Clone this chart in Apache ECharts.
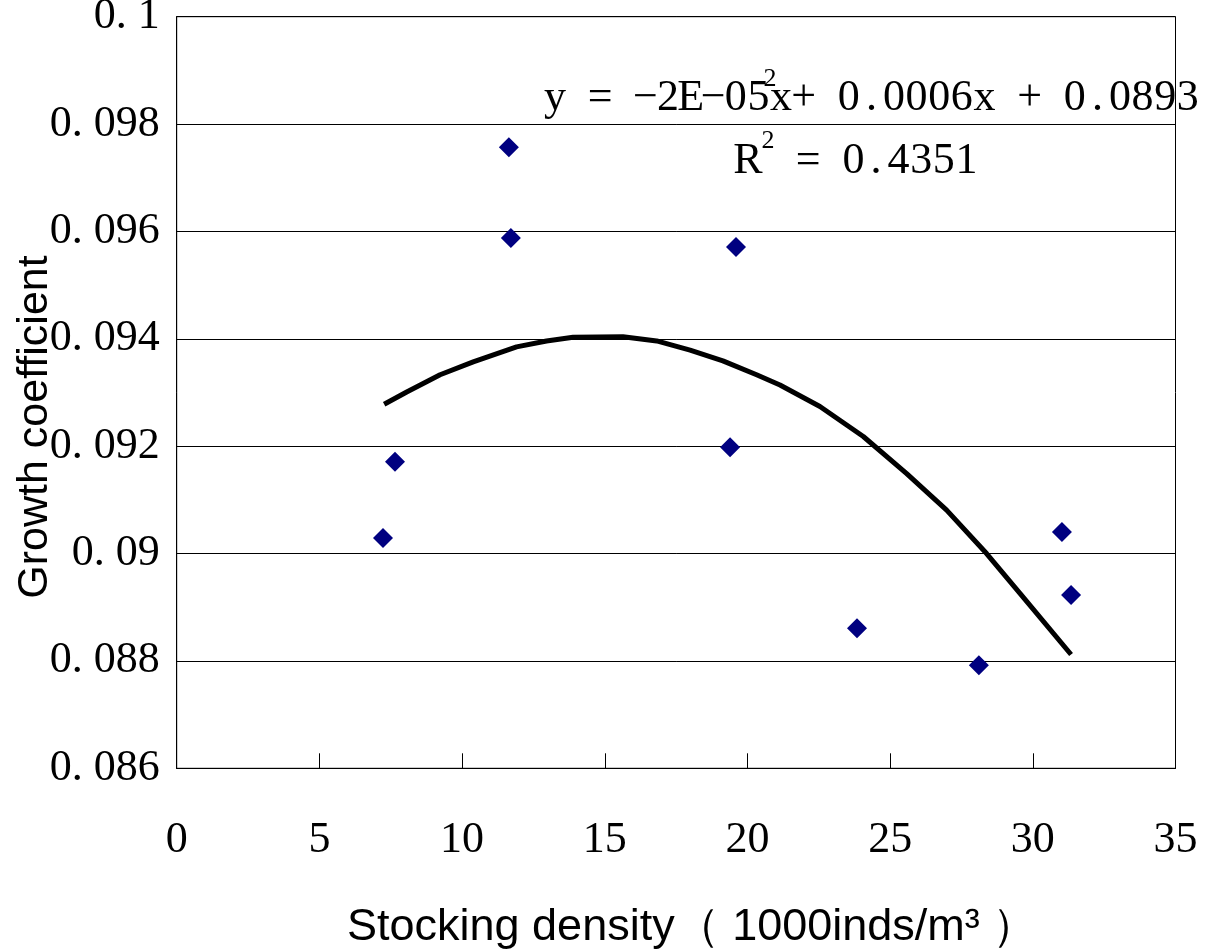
<!DOCTYPE html>
<html>
<head>
<meta charset="utf-8">
<script src="https://cdn.jsdelivr.net/npm/echarts@6/dist/echarts.min.js"></script>
<style>
html,body{margin:0;padding:0;background:#fff;}
#chart{width:1212px;height:952px;}
</style>
</head>
<body>
<div id="chart"></div>
<script>
// Observed data points (stocking density, growth coefficient)
const densityX = [7.23, 7.65, 11.64, 11.71, 19.39, 19.60, 23.84, 28.11, 31.02, 31.34];
const growthY  = [0.09029, 0.09171, 0.09757, 0.09588, 0.09198, 0.09571, 0.08861, 0.08792, 0.09040, 0.08923];

// Polynomial trendline
const trendX = [7.27, 8.06, 9.23, 10.39, 11.91, 12.96, 13.89, 15.64, 16.82, 17.99, 19.14, 20.32, 21.14, 22.54, 24.06, 25.58, 26.98, 28.38, 29.55, 31.34];
const trendY = [0.09278, 0.09301, 0.09333, 0.09357, 0.09385, 0.09396, 0.09403, 0.09404, 0.09396, 0.09379, 0.09359, 0.09333, 0.09314, 0.09274, 0.09218, 0.09149, 0.09081, 0.09000, 0.08926, 0.08812];

// Tick labels
const yTickLabels = ['0. 086', '0. 088', '0. 09', '0. 092', '0. 094', '0. 096', '0. 098', '0. 1'];
const xTickLabels = ['0', '5', '10', '15', '20', '25', '30', '35'];

// Texts
const xTitle = 'Stocking density（ 1000inds/m³ ）';
const yTitle = 'Growth coefficient';
const eqText = 'y = −2E−05x+ 0.0006x + 0.0893';
const r2Value = ' = 0.4351';

const SERIF = '"Liberation Serif", "Times New Roman", serif';
const SANS = '"Liberation Sans", Arial, sans-serif';

function mono(str, style) {
  return str.split('').map(ch => '{' + style + '|' + ch + '}').join('');
}

const chart = echarts.init(document.getElementById('chart'), null, {renderer: 'canvas'});

const scatterData = densityX.map((x, i) => [x, growthY[i]]);
const trendData = trendX.map((x, i) => [x, trendY[i]]);

const cellRich = {
  c: {fontFamily: SERIF, fontSize: 44, width: 22.6, align: 'center', color: '#000'},
  r: {fontFamily: SERIF, fontSize: 44, width: 22.6, align: 'center', color: '#000'},
  s: {fontFamily: SERIF, fontSize: 26, width: 15, align: 'center', color: '#000'}
};

const option = {
  animation: false,
  backgroundColor: '#fff',
  grid: {
    left: 176.7, right: 36.5, top: 16.7, bottom: 183.7,
    containLabel: false,
    outerBoundsMode: 'none',
    show: true, borderColor: '#000', borderWidth: 1, backgroundColor: 'transparent'
  },
  xAxis: {
    type: 'value',
    min: 0, max: 35, interval: 5,
    axisLine: {show: true, onZero: false, lineStyle: {color: '#000', width: 1}},
    axisTick: {show: true, inside: true, length: 15, lineStyle: {color: '#000', width: 1}},
    splitLine: {show: false},
    axisLabel: {
      margin: 50,
      fontFamily: SERIF, fontSize: 44, color: '#000',
      formatter: (v, i) => xTickLabels[i]
    }
  },
  yAxis: {
    type: 'value',
    min: 0.086, max: 0.1, interval: 0.002,
    axisLine: {show: true, lineStyle: {color: '#000', width: 1}},
    axisTick: {show: true, inside: true, length: 13, lineStyle: {color: '#000', width: 1}},
    splitLine: {show: true, lineStyle: {color: '#000', width: 1}},
    axisLabel: {
      margin: 17,
      fontFamily: SERIF, fontSize: 44, color: '#000',
      formatter: (v, i) => yTickLabels[i]
    }
  },
  graphic: [
    {
      type: 'text', x: 347, y: 928, z: 100,
      style: {text: xTitle, fontFamily: SANS, fontSize: 45, fill: '#000', align: 'left', verticalAlign: 'middle'}
    },
    {
      type: 'text', x: 35, y: 427, rotation: Math.PI / 2, z: 100,
      style: {text: yTitle, fontFamily: SANS, fontSize: 43, fill: '#000', align: 'center', verticalAlign: 'middle'}
    },
    {
      type: 'text', x: 543.7, y: 98, z: 100,
      style: {text: mono(eqText, 'c'), rich: cellRich, align: 'left', verticalAlign: 'middle', fill: '#000'}
    },
    {
      type: 'text', x: 770, y: 79, z: 100,
      style: {text: '2', fontFamily: SERIF, fontSize: 26, fill: '#000', align: 'center', verticalAlign: 'middle'}
    },
    {
      type: 'text', x: 736.7, y: 161, z: 100,
      style: {text: '{r|R}{s| }' + mono(r2Value, 'c'), rich: cellRich, align: 'left', verticalAlign: 'middle', fill: '#000'}
    },
    {
      type: 'text', x: 768, y: 141, z: 100,
      style: {text: '2', fontFamily: SERIF, fontSize: 26, fill: '#000', align: 'center', verticalAlign: 'middle'}
    }
  ],
  series: [
    {
      type: 'scatter',
      data: scatterData,
      symbol: 'diamond',
      symbolSize: 20,
      itemStyle: {color: '#000080', opacity: 1},
      z: 3
    },
    {
      type: 'line',
      data: trendData,
      showSymbol: false,
      symbol: 'none',
      smooth: false,
      lineStyle: {color: '#000', width: 5},
      z: 4
    }
  ]
};

chart.setOption(option);
</script>
</body>
</html>
